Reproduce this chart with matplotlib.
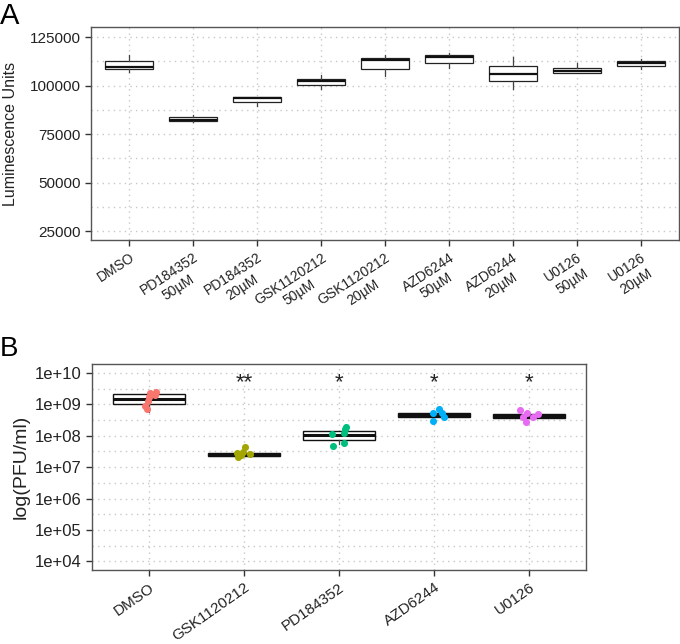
import numpy as np
import matplotlib
matplotlib.use("Agg")
import matplotlib.pyplot as plt
from matplotlib.ticker import FixedLocator, FuncFormatter

plt.rcParams['font.family'] = ['Liberation Sans', 'DejaVu Sans']

# ---- panel A: luminescence box stats ----
cats_a = ['DMSO', 'PD184352\n50µM', 'PD184352\n20µM', 'GSK1120212\n50µM',
          'GSK1120212\n20µM', 'AZD6244\n50µM', 'AZD6244\n20µM', 'U0126\n50µM', 'U0126\n20µM']
a_whislo = [107100, 81000, 89600, 98050, 104900, 109200, 98200, 106600, 108650]
a_q1 = [108350, 81550, 91350, 100250, 108650, 111750, 102150, 106600, 110050]
a_med = [109700, 82350, 93400, 102450, 113000, 114550, 105900, 107300, 111600]
a_q3 = [112800, 83600, 93900, 103500, 114350, 115550, 110200, 109200, 112800]
a_whishi = [115900, 84800, 93900, 105400, 115700, 116600, 114550, 111450, 113500]

# ---- panel B: log10 PFU/ml ----
cats_b = ['DMSO', 'GSK1120212', 'PD184352', 'AZD6244', 'U0126']
b_whislo = [8.76, 7.35, 7.73, 8.61, 8.58]
b_q1 = [9.00, 7.35, 7.86, 8.61, 8.58]
b_med = [9.17, 7.40, 8.02, 8.66, 8.63]
b_q3 = [9.32, 7.45, 8.16, 8.71, 8.68]
b_whishi = [9.38, 7.45, 8.16, 8.71, 8.68]
b_points = [
    [8.84, 8.95, 9.11, 9.24, 9.37, 9.30, 9.40],
    [7.46, 7.31, 7.39, 7.49, 7.65, 7.41],
    [8.04, 7.68, 8.10, 8.20, 8.29, 7.76],
    [8.71, 8.48, 8.85, 8.71, 8.61],
    [8.82, 8.61, 8.43, 8.71, 8.61, 8.70],
]
b_jitter = [
    [-0.024, -0.04, -0.014, -0.003, 0.014, 0.063, 0.074],
    [-0.077, -0.06, -0.035, -0.014, 0.01, 0.063],
    [-0.074, -0.067, 0.048, 0.066, 0.077, 0.056],
    [-0.007, -0.007, 0.056, 0.081, 0.105],
    [-0.094, -0.06, -0.035, -0.024, 0.045, 0.098],
]
b_signif = ['', '**', '*', '*', '*']
b_colors = ['#F8766D', '#A3A500', '#00BF7D', '#00B0F6', '#E76BF3']

frame_col = '#555555'
grid_col = '#c8c8c8'

fig = plt.figure(figsize=(6.8, 6.44), dpi=100)
axA = fig.add_axes([0.1338, 0.6273, 0.8647, 0.3307])
axB = fig.add_axes([0.1353, 0.1149, 0.7265, 0.3203])


def style_axes(ax):
    for s in ax.spines.values():
        s.set_color(frame_col)
        s.set_linewidth(1.0)
    ax.tick_params(axis='both', which='major', direction='out', length=4,
                   width=1.0, color='#333333', labelcolor='#222222')
    ax.tick_params(axis='both', which='minor', length=0)
    ax.grid(True, which='both', linestyle=(0, (1, 3)), color=grid_col, linewidth=1.0)
    ax.set_axisbelow(True)


boxprops = dict(edgecolor='#222222', linewidth=0.9, facecolor='white')
whiskerprops = dict(color='#444444', linewidth=0.9)

# panel A
xa = np.arange(1, len(cats_a) + 1)
statsA = [dict(whislo=a_whislo[i], q1=a_q1[i], med=a_med[i], q3=a_q3[i],
               whishi=a_whishi[i], fliers=[]) for i in range(len(cats_a))]
axA.bxp(statsA, positions=xa, widths=0.75, patch_artist=True, showcaps=False,
        boxprops=boxprops, medianprops=dict(color='#111111', linewidth=1.6),
        whiskerprops=whiskerprops)
style_axes(axA)
axA.set_xlim(0.4, 9.6)
axA.set_ylim(20361, 130155)
axA.set_yticks([25000, 50000, 75000, 100000, 125000])
axA.yaxis.set_minor_locator(FixedLocator([37500, 62500, 87500, 112500]))
axA.set_xticks(xa)
axA.set_xticklabels(cats_a, rotation=33, ha='right', rotation_mode='anchor',
                    fontsize=10, multialignment='center')
axA.tick_params(axis='y', labelsize=11)
axA.set_ylabel('Luminescence Units', fontsize=11.5, color='#222222', labelpad=8)
fig.text(0.0, 0.997, 'A', fontsize=21, ha='left', va='top')

# panel B
xb = np.arange(1, len(cats_b) + 1)
statsB = [dict(whislo=10 ** b_whislo[i], q1=10 ** b_q1[i], med=10 ** b_med[i],
               q3=10 ** b_q3[i], whishi=10 ** b_whishi[i], fliers=[])
          for i in range(len(cats_b))]
axB.set_yscale('log')
axB.bxp(statsB, positions=xb, widths=0.75, patch_artist=True, showcaps=False,
        boxprops=dict(edgecolor='#111111', linewidth=1.0, facecolor='white'),
        medianprops=dict(color='#111111', linewidth=2.2), whiskerprops=whiskerprops)
for i in range(len(cats_b)):
    px = xb[i] + np.array(b_jitter[i])
    py = 10 ** np.array(b_points[i])
    axB.scatter(px, py, s=26, color=b_colors[i], zorder=4, linewidths=0)
    if b_signif[i]:
        axB.text(xb[i], 10 ** 9.70, b_signif[i], ha='center', va='center',
                 fontsize=16, color='#222222')
style_axes(axB)
axB.set_xlim(0.4, 5.6)
axB.set_ylim(10 ** 3.723, 10 ** 10.293)
axB.yaxis.set_major_locator(FixedLocator([10.0 ** k for k in range(4, 11)]))
axB.yaxis.set_minor_locator(FixedLocator([10.0 ** (k + 0.5) for k in range(3, 10)]))
axB.yaxis.set_major_formatter(FuncFormatter(lambda v, p: '1e+%02d' % round(np.log10(v))))
axB.set_xticks(xb)
axB.set_xticklabels(cats_b, rotation=35, ha='right', rotation_mode='anchor', fontsize=11)
axB.tick_params(axis='y', labelsize=12)
axB.set_ylabel('log(PFU/ml)', fontsize=14, color='#222222', labelpad=4)
fig.text(0.0, 0.478, 'B', fontsize=20, ha='left', va='top')

fig.savefig('out.png', dpi=100)
